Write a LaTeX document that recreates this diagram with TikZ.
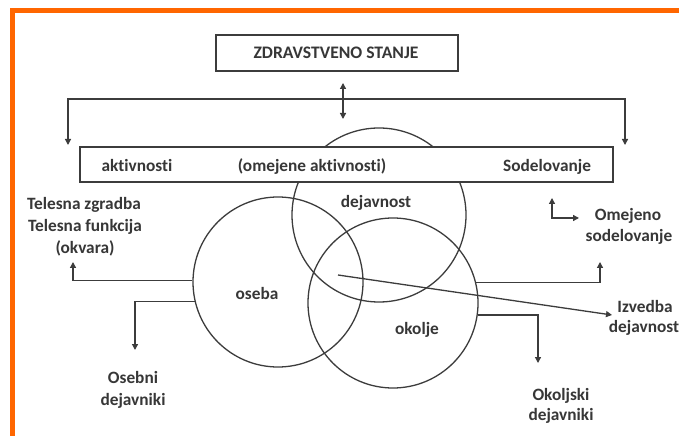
\documentclass[tikz,border=0pt]{standalone}
\usepackage{fontspec}
\setmainfont[Ligatures=NoCommon]{Carlito}
\usetikzlibrary{arrows.meta}
\definecolor{frameorange}{RGB}{255,102,0}
\definecolor{ink}{RGB}{60,60,60}
\definecolor{txt}{RGB}{55,55,55}
\begin{document}
\begin{tikzpicture}[x=1bp,y=-1bp,
  ln/.style={draw=ink,line width=1.3bp},
  arr/.style={ln,-{Triangle[width=6bp,length=6bp]}},
  darr/.style={ln,{Triangle[width=6bp,length=6bp]}-{Triangle[width=6bp,length=6bp]}},
  lbl/.style={anchor=base,inner sep=0pt,text=txt,font=\fontsize{17.3bp}{22bp}\selectfont\bfseries},
  ring/.style={circle,ln,inner sep=0pt,fill=none}
]
\useasboundingbox (0,0) rectangle (679,436);
\fill[white] (0,0) rectangle (679,436);
% orange frame
\draw[frameorange,line width=5bp] (12.5,440) -- (12.5,10.5) -- (690,10.5);

% circles
\node[ring,minimum size=174bp] (dej) at (379,215) {};
\node[ring,minimum size=170bp] (os) at (278,282) {};
\node[ring,minimum size=170bp] (ok) at (393,303) {};

% title box
\node[ln,fill=white,minimum width=242bp,minimum height=36bp,inner sep=0pt] (zs) at (337,53) {};
\node[lbl,font=\fontsize{17.6bp}{20bp}\selectfont\bfseries] (zst) at (336,59) {ZDRAVSTVENO STANJE};

% main box
\node[ln,fill=white,minimum width=533bp,minimum height=35bp,inner sep=0pt] (mb) at (346.5,164.5) {};
\node[lbl] (akt) at (137,172) {aktivnosti};
\node[lbl] (oma) at (312,172) {(omejene aktivnosti)};
\node[lbl] (sod) at (547,172) {Sodelovanje};

% double arrow
\coordinate (da1) at (343,83);
\coordinate (da2) at (343,119);
\draw[darr] (da1) -- (da2);

% bracket
\coordinate (bl) at (68,145);
\coordinate (blt) at (68,99);
\coordinate (brt) at (625,99);
\coordinate (br) at (625,145);
\draw[darr] (bl) -- (blt) -- (brt) -- (br);

% circle labels
\node[lbl] (dejt) at (376,208) {dejavnost};
\node[lbl] (ost) at (257,300) {oseba};
\node[lbl] (okt) at (417,335) {okolje};

% left labels
\node[lbl] (tel1) at (84,210) {Telesna zgradba};
\node[lbl] (tel2) at (85,232) {Telesna funkcija};
\node[lbl] (tel3) at (85,254) {(okvara)};
\node[lbl] (oseb1) at (133,383) {Osebni};
\node[lbl] (oseb2) at (133,405) {dejavniki};

% right labels
\node[lbl] (ome1) at (628,221) {Omejeno};
\node[lbl] (ome2) at (629,242) {sodelovanje};
\node[lbl] (izv1) at (645,313) {Izvedba};
\node[lbl] (izv2) at (644,333) {dejavnost};
\node[lbl] (okl1) at (561,400) {Okoljski};
\node[lbl] (okl2) at (561,420) {dejavniki};

% connectors
\coordinate (t1) at (73,262);
\draw[arr] (os.179) -| (t1);
\coordinate (t2) at (135,350);
\draw[arr] (os.193) -| (t2);
\coordinate (t3) at (600,262);
\draw[arr] (ok.14) -| (t3);
\coordinate (t4) at (538,363);
\draw[arr] (ok.-8) -| (t4);
\coordinate (d0) at (338,275);
\coordinate (d1) at (612,315);
\draw[arr] (d0) -- (d1);
\coordinate (s1) at (552,198);
\coordinate (s2) at (579,218);
\draw[darr] (s1) |- (s2);
\end{tikzpicture}
\end{document}
